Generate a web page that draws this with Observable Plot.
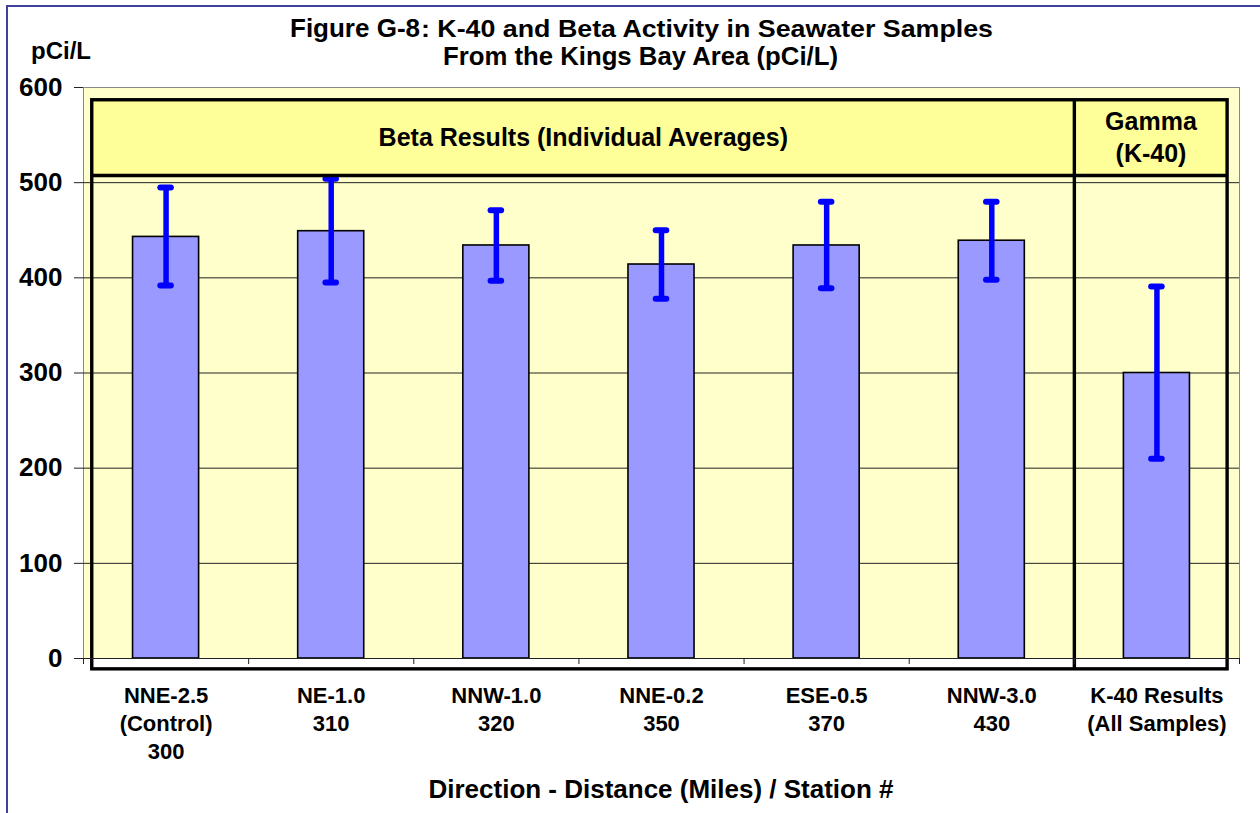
<!DOCTYPE html>
<html><head><meta charset="utf-8">
<script src="https://cdn.jsdelivr.net/npm/d3@7"></script>
<script src="https://cdn.jsdelivr.net/npm/@observablehq/plot@0.6"></script>
<style>
html,body{margin:0;padding:0;background:#fff;overflow:hidden;}
#wrap{position:relative;width:1260px;height:813px;font-family:"Liberation Sans",Arial,sans-serif;font-weight:bold;}
#border{position:absolute;left:6px;top:5px;width:1400px;height:1000px;border-left:2px solid #4040a0;border-top:2px solid #4040a0;}
#chart{position:absolute;left:0;top:0;}
#overlay{position:absolute;left:0;top:0;pointer-events:none;font-family:"Liberation Sans",Arial,sans-serif;font-weight:bold;}
</style></head>
<body>
<div id="wrap">
  <div id="border"></div>
  <div id="chart"></div>
  <svg id="overlay" width="1260" height="813">
    <text x="290" y="36.5" font-size="26.5" textLength="130" lengthAdjust="spacingAndGlyphs">Figure G-8</text>
    <text x="421" y="36.5" font-size="24" textLength="572" lengthAdjust="spacingAndGlyphs">: K-40 and Beta Activity in Seawater Samples</text>
    <text x="443" y="64.5" font-size="25" textLength="395" lengthAdjust="spacingAndGlyphs">From the Kings Bay Area (pCi/L)</text>
    <text x="31" y="58.5" font-size="24">pCi/L</text>
    <text x="661" y="798" text-anchor="middle" font-size="26" textLength="465" lengthAdjust="spacingAndGlyphs">Direction - Distance (Miles) / Station #</text>
  </svg>
</div>
<script>
// ---- data ----
const categories = [
  "NNE-2.5\n(Control)\n300",
  "NE-1.0\n310",
  "NNW-1.0\n320",
  "NNE-0.2\n350",
  "ESE-0.5\n370",
  "NNW-3.0\n430",
  "K-40 Results\n(All Samples)"
];
const values  = [443, 449, 434, 414, 434, 439, 300];
const errLow  = [392, 395, 397, 378, 389, 398, 210];
const errHigh = [495, 504, 471, 450, 480, 480, 391];
const yTicks = [0, 100, 200, 300, 400, 500, 600];
const gridTicks = [100, 200, 300, 400, 500];
const headerLabels = ["Beta Results (Individual Averages)", "Gamma\n(K-40)"];
// panel extents (x in category units, y in pCi/L)
const panelX = [0.053, 6, 6.928];
const panelY = [-11.4, 507.5, 586.6];

const rows = categories.map((c, i) => ({i, label: c, value: values[i], lo: errLow[i], hi: errHigh[i]}));
const headers = [
  {x1: panelX[0], x2: panelX[1], text: headerLabels[0]},
  {x1: panelX[1], x2: panelX[2], text: headerLabels[1]}
];
const capHalf = 0.032;
const barHalf = 0.2;

const plot = Plot.plot({
  width: 1260,
  height: 813,
  marginTop: 87,
  marginBottom: 155,
  marginLeft: 83,
  marginRight: 21,
  style: {fontFamily: "Liberation Sans, Arial, sans-serif", fontWeight: "bold", fontSize: "22px", color: "#000", background: "transparent", overflow: "visible"},
  x: {domain: [0, categories.length], label: null},
  y: {domain: [0, 600], label: null},
  marks: [
    Plot.frame({fill: "#ffffcc", stroke: "#888888"}),
    Plot.rect(headers, {x1: "x1", x2: "x2", y1: panelY[1], y2: panelY[2], fill: "#ffff99"}),
    Plot.ruleY(gridTicks, {stroke: "#222", strokeWidth: 1}),
    Plot.rectY(rows, {x1: d => d.i + 0.5 - barHalf, x2: d => d.i + 0.5 + barHalf, y: "value", fill: "#9999ff", stroke: "#000", strokeWidth: 1.6}),
    Plot.ruleX(rows, {x: d => d.i + 0.5, y1: "lo", y2: "hi", stroke: "#0000ff", strokeWidth: 5.5}),
    Plot.ruleY(rows, {y: "hi", x1: d => d.i + 0.5 - capHalf, x2: d => d.i + 0.5 + capHalf, stroke: "#0000ff", strokeWidth: 6, strokeLinecap: "round"}),
    Plot.ruleY(rows, {y: "lo", x1: d => d.i + 0.5 - capHalf, x2: d => d.i + 0.5 + capHalf, stroke: "#0000ff", strokeWidth: 6, strokeLinecap: "round"}),
    Plot.rect([0], {x1: panelX[0], x2: panelX[2], y1: panelY[0], y2: panelY[2], fill: "none", stroke: "#000", strokeWidth: 3.4}),
    Plot.ruleY([panelY[1]], {x1: panelX[0], x2: panelX[2], stroke: "#000", strokeWidth: 3.4}),
    Plot.ruleX([panelX[1]], {y1: panelY[0], y2: panelY[2], stroke: "#000", strokeWidth: 3.4}),
    Plot.text(headers, {x: d => (d.x1 + d.x2) / 2, y: (panelY[1] + panelY[2]) / 2, text: "text", fontSize: 25, lineHeight: 1.3, lineAnchor: "middle", dy: -2.5, fill: "#000"}),
    Plot.ruleY([0], {stroke: "#222", strokeWidth: 1}),
    Plot.axisY(yTicks, {tickSize: 9, tickPadding: 12, fontSize: 26, stroke: "#222", label: null}),
    Plot.axisX(d3.range(0, categories.length + 1), {tickSize: 6, tickFormat: () => "", stroke: "#222", label: null}),
    Plot.axisX(rows.map(d => d.i + 0.5), {tickSize: 0, tickPadding: 25, fontSize: 22, lineHeight: 1.27, tickFormat: d => categories[Math.floor(d)], label: null})
  ]
});
document.getElementById("chart").appendChild(plot);
</script>
</body></html>
